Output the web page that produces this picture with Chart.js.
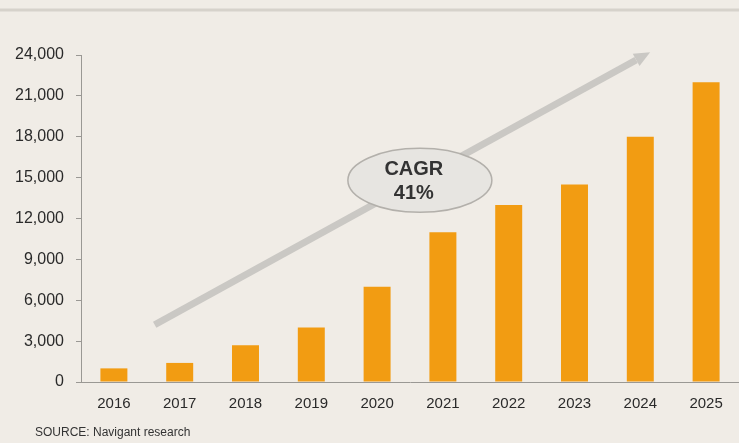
<!DOCTYPE html>
<html>
<head>
<meta charset="utf-8">
<script src="https://cdn.jsdelivr.net/npm/chart.js@4.4.1/dist/chart.umd.min.js"></script>
<style>
  html, body { margin: 0; padding: 0; background: #f0ece6; }
  canvas { display: block; }
</style>
</head>
<body>
<canvas id="c" width="739" height="443"></canvas>
<script>
// ---- data ----
const years = ['2016', '2017', '2018', '2019', '2020', '2021', '2022', '2023', '2024', '2025'];
const units = [1000, 1400, 2700, 4000, 7000, 11000, 13000, 14500, 18000, 22000];
const yMin = 0;
const yMax = 24000;
const yStep = 3000;
const sourceNote = 'SOURCE: Navigant research';
const cagrLines = ['CAGR', '41%'];
// annotation anchors in data space (category index, value)
const arrowFrom = [0.62, 4200];
const arrowTo = [8.15, 24200];
const cagrAt = [4.65, 14800];

const FONT = '"Liberation Sans", Arial, Helvetica, sans-serif';
const BG = '#f0ece6';

const decor = {
  id: 'decor',
  beforeDraw(chart) {
    const ctx = chart.ctx;
    ctx.save();
    ctx.fillStyle = BG;
    ctx.fillRect(0, 0, chart.width, chart.height);
    // header rule
    ctx.strokeStyle = '#d6d2cb';
    ctx.lineWidth = 3;
    ctx.beginPath();
    ctx.moveTo(0, 10);
    ctx.lineTo(chart.width, 10);
    ctx.stroke();
    ctx.restore();
  },
  afterDraw(chart) {
    const ctx = chart.ctx;
    const xs = chart.scales.x, ys = chart.scales.y;
    const x1 = xs.getPixelForValue(arrowFrom[0]), y1 = ys.getPixelForValue(arrowFrom[1]);
    const x2 = xs.getPixelForValue(arrowTo[0]), y2 = ys.getPixelForValue(arrowTo[1]);
    const ang = Math.atan2(y2 - y1, x2 - x1);
    const headLen = 16, headW = 7;
    ctx.save();
    ctx.strokeStyle = '#cac8c4';
    ctx.fillStyle = '#cac8c4';
    ctx.lineWidth = 7;
    ctx.lineCap = 'butt';
    ctx.beginPath();
    ctx.moveTo(x1, y1);
    ctx.lineTo(x2 - headLen * Math.cos(ang), y2 - headLen * Math.sin(ang));
    ctx.stroke();
    ctx.beginPath();
    ctx.moveTo(x2, y2);
    const bx = x2 - headLen * Math.cos(ang), by = y2 - headLen * Math.sin(ang);
    ctx.lineTo(bx + headW * Math.sin(ang), by - headW * Math.cos(ang));
    ctx.lineTo(bx - headW * Math.sin(ang), by + headW * Math.cos(ang));
    ctx.closePath();
    ctx.fill();

    // CAGR ellipse
    const cx = xs.getPixelForValue(cagrAt[0]), cy = ys.getPixelForValue(cagrAt[1]);
    ctx.beginPath();
    ctx.ellipse(cx, cy, 72, 32, 0, 0, Math.PI * 2);
    ctx.fillStyle = '#e7e5e1';
    ctx.fill();
    ctx.lineWidth = 1.5;
    ctx.strokeStyle = '#b3b0ab';
    ctx.stroke();
    ctx.fillStyle = '#333';
    ctx.font = 'bold 20px ' + FONT;
    ctx.textAlign = 'center';
    ctx.textBaseline = 'middle';
    ctx.fillText(cagrLines[0], cx - 6, cy - 11);
    ctx.fillText(cagrLines[1], cx - 6, cy + 13);

    // source note
    ctx.font = '12px ' + FONT;
    ctx.fillStyle = '#333';
    ctx.textAlign = 'left';
    ctx.textBaseline = 'middle';
    ctx.fillText(sourceNote, 35, 433);
    ctx.restore();
  }
};

new Chart(document.getElementById('c'), {
  type: 'bar',
  data: {
    labels: years,
    datasets: [{
      data: units,
      backgroundColor: '#f29c12',
      borderWidth: 0,
      categoryPercentage: 1,
      barPercentage: 0.41
    }]
  },
  options: {
    responsive: false,
    animation: false,
    devicePixelRatio: 1,
    layout: { padding: { top: 55, right: 0, bottom: 0, left: 0 } },
    plugins: {
      legend: { display: false },
      tooltip: { enabled: false },
      title: { display: false }
    },
    scales: {
      x: {
        grid: { display: false },
        border: { display: true, color: '#9a9894', width: 1 },
        ticks: { color: '#2a2a2a', font: { family: FONT, size: 15 }, padding: 5, maxRotation: 0 },
        afterFit(scale) { scale.height = 61; }
      },
      y: {
        min: yMin,
        max: yMax,
        ticks: {
          stepSize: yStep,
          color: '#2a2a2a',
          font: { family: FONT, size: 16 },
          padding: 12,
          callback: v => v.toLocaleString('en-US')
        },
        grid: { drawOnChartArea: false, drawTicks: true, tickLength: 5, color: '#9a9894' },
        border: { display: true, color: '#9a9894', width: 1 },
        afterFit(scale) { scale.width = 81; }
      }
    }
  },
  plugins: [decor]
});
</script>
</body>
</html>
